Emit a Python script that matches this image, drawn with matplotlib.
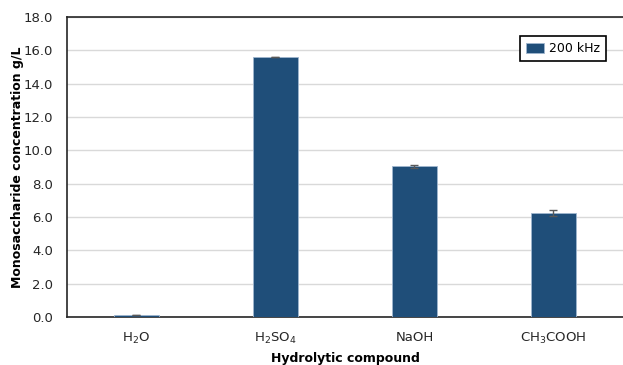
import matplotlib
matplotlib.use("Agg")
import matplotlib.pyplot as plt
import numpy as np

compounds = ["H$_2$O", "H$_2$SO$_4$", "NaOH", "CH$_3$COOH"]
concentration = [0.12, 15.6, 9.05, 6.25]
errors = [0.02, 0.02, 0.08, 0.17]
series_label = "200 kHz"

bar_color = "#1f4e79"

plt.rcParams["font.family"] = ["DejaVu Sans"]
plt.rcParams["mathtext.fontset"] = "dejavusans"
plt.rcParams["mathtext.default"] = "regular"

fig = plt.figure(figsize=(6.23, 3.65), dpi=100)
ax = fig.add_axes([0.1075, 0.1315, 0.8925, 0.8219])

x = np.arange(len(compounds))
ax.bar(x, concentration, width=0.32, color=bar_color, edgecolor="#9fb6cf",
       linewidth=0.6, label=series_label, zorder=3)
ax.errorbar(x, concentration, yerr=errors, fmt="none", ecolor="#595959",
            elinewidth=1, capsize=3, capthick=1, zorder=4)

ax.set_xlim(-0.5, len(compounds) - 0.5)
ax.set_ylim(0, 18)
ax.set_yticks(np.arange(0, 18.1, 2))
ax.set_yticklabels(["{:.1f}".format(v) for v in np.arange(0, 18.1, 2)])
ax.set_xticks(x)
ax.set_xticklabels(compounds)
ax.tick_params(axis="both", length=0, labelsize=9.5, colors="#262626")
ax.tick_params(axis="y", pad=10)
ax.tick_params(axis="x", pad=10)

ax.grid(axis="y", color="#d9d9d9", linewidth=1, zorder=0)
ax.set_axisbelow(True)
for side in ["left", "top", "bottom"]:
    ax.spines[side].set_color("#262626")
    ax.spines[side].set_linewidth(1.2)
ax.spines["right"].set_visible(False)

ax.set_ylabel("Monosaccharide concentration g/L", fontsize=9, fontweight="bold")
ax.yaxis.set_label_coords(-0.078, 0.5)
ax.set_xlabel("Hydrolytic compound", fontsize=9, fontweight="bold")
ax.xaxis.set_label_coords(0.5, -0.115)

leg = ax.legend(loc="upper right", bbox_to_anchor=(0.969, 0.937), fontsize=9,
                fancybox=False, framealpha=1, edgecolor="#000000",
                handlelength=1.4, handleheight=0.9, borderpad=0.5,
                borderaxespad=0, handletextpad=0.4)
leg.get_frame().set_linewidth(1.2)

fig.savefig("out.png", dpi=100)
